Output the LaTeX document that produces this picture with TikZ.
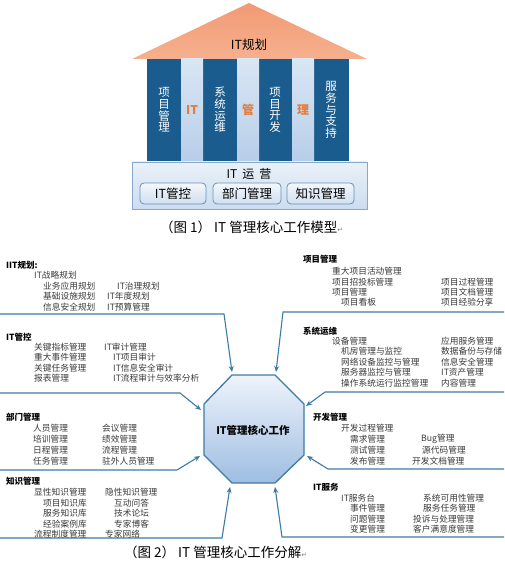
\documentclass[tikz,border=0pt]{standalone}
\usepackage{fontspec}
\setmainfont{Noto Sans CJK SC}
\newfontfamily\dejavu{DejaVu Sans}
\usetikzlibrary{arrows.meta}
\definecolor{colDark}{HTML}{1B5C8E}
\definecolor{colLightTop}{HTML}{D9E6F4}
\definecolor{colLightBot}{HTML}{B7CEE9}
\definecolor{roofTop}{HTML}{F29A74}
\definecolor{roofBot}{HTML}{F6B08E}
\definecolor{orangeTxt}{HTML}{E57C3A}
\definecolor{baseTop}{HTML}{EAF1F9}
\definecolor{baseBot}{HTML}{CCDDEF}
\definecolor{baseBorder}{HTML}{86A9CB}
\definecolor{subTop}{HTML}{F3F7FC}
\definecolor{subBot}{HTML}{D0DFF0}
\definecolor{subBorder}{HTML}{6890B8}
\definecolor{connCol}{HTML}{3C7CA4}
\definecolor{octTop}{HTML}{EEF4FB}
\definecolor{octBot}{HTML}{9EBDE2}
\definecolor{octBorder}{HTML}{3F7BA5}
\definecolor{itemTxt}{HTML}{3A3A3A}
\begin{document}
\begin{tikzpicture}[x=1pt,y=-1pt,
  coltxt/.style={text=white,align=center,inner sep=0pt,font=\fontsize{11.5}{11.6}\selectfont},
  orgtxt/.style={text=orangeTxt,inner sep=0pt,font=\bfseries\fontsize{12}{12}\selectfont},
  subbox/.style={draw=subBorder,line width=0.8pt,rounded corners=4pt,top color=subTop,bottom color=subBot,
     minimum width=66pt,minimum height=21pt,inner sep=0pt,font=\fontsize{12.5}{12.5}\selectfont},
  hdr/.style={anchor=west,inner sep=0pt,font=\bfseries\fontsize{8.5}{8.5}\selectfont},
  item/.style={anchor=west,inner sep=0pt,text=itemTxt,font=\fontsize{8.7}{8.7}\selectfont},
  connline/.style={draw=connCol,line width=1.1pt,-{Stealth[length=6pt,width=5pt]}},
  captxt/.style={anchor=west,inner sep=0pt,font=\fontsize{13.5}{13.5}\selectfont}]
\useasboundingbox (0,0) rectangle (504,561);
\clip (0,0) rectangle (504,561);
\fill[white] (0,0) rectangle (504,561);
% ---------- Figure 1 ----------
\shade[top color=roofTop,bottom color=roofBot] (132,59) -- (249,3) -- (367,59) -- cycle;
\node[inner sep=0pt,font=\fontsize{12.5}{12.5}\selectfont] (roof) at (249,45) {IT规划};
\fill[colDark] (147,59) rectangle (181,163);
\fill[colDark] (203,59) rectangle (237,163);
\fill[colDark] (259,59) rectangle (292,163);
\fill[colDark] (314,59) rectangle (349,163);
\shade[top color=colLightTop,bottom color=colLightBot] (181,59) rectangle (203,163);
\shade[top color=colLightTop,bottom color=colLightBot] (237,59) rectangle (259,163);
\shade[top color=colLightTop,bottom color=colLightBot] (292,59) rectangle (314,163);
\node[coltxt] (c1) at (164,110) {项\\目\\管\\理};
\node[coltxt] (c2) at (220,110) {系\\统\\运\\维};
\node[coltxt] (c3) at (275,110) {项\\目\\开\\发};
\node[coltxt] (c4) at (331,110) {服\\务\\与\\支\\持};
\node[orgtxt] (o1) at (192,110) {IT};
\node[orgtxt] (o2) at (248,110) {管};
\node[orgtxt] (o3) at (303,110) {理};
\shadedraw[top color=baseTop,bottom color=baseBot,draw=baseBorder,line width=0.8pt] (132,162) rectangle (367,209);
\node[inner sep=0pt,font=\fontsize{12}{12}\selectfont] (ops) at (249,174) {IT\hspace{5pt}运\hspace{5pt}营};
\node[subbox] (s1) at (173,193.5) {IT管控};
\node[subbox,minimum width=68pt] (s2) at (247,193.5) {部门管理};
\node[subbox,minimum width=67pt] (s3) at (320.5,193.5) {知识管理};
\node[captxt] (cap1) at (160,227) {（图 1）\hspace{3pt}IT 管理核心工作模型{\dejavu\fontsize{7}{7}\selectfont\color{gray}↵}};
% ---------- Figure 2 ----------
\coordinate (v1) at (232,375); \coordinate (v2) at (275,375);
\coordinate (v3) at (304,404); \coordinate (v4) at (304,455);
\coordinate (v5) at (275,483); \coordinate (v6) at (232,483);
\coordinate (v7) at (204,455); \coordinate (v8) at (204,404);
\shadedraw[top color=octTop,bottom color=octBot,draw=octBorder,line width=1.3pt]
  (v1) -- (v2) -- (v3) -- (v4) -- (v5) -- (v6) -- (v7) -- (v8) -- cycle;
\node[inner sep=0pt,font=\bfseries\fontsize{10.5}{10.5}\selectfont] (core) at (253,430) {IT管理核心工作};
% connectors
\coordinate (a1) at (0,314);   \coordinate (k1) at (224,314); \coordinate (e1) at (232,372);
\coordinate (a2) at (504,312); \coordinate (k2) at (283,312); \coordinate (e2) at (276,372);
\coordinate (a3) at (0,393);   \coordinate (k3) at (180,393); \coordinate (e3) at (201,410);
\coordinate (a4) at (504,392); \coordinate (k4) at (325,392); \coordinate (e4) at (306,406);
\coordinate (a5) at (0,470);   \coordinate (k5) at (177,470); \coordinate (e5) at (200,456);
\coordinate (a6) at (504,469); \coordinate (k6) at (328,469); \coordinate (e6) at (307,456);
\coordinate (a7) at (0,538);   \coordinate (k7) at (222,538); \coordinate (e7) at (230,487);
\coordinate (a8) at (504,537); \coordinate (k8) at (282,537); \coordinate (e8) at (275,487);
\draw[connline] (a1) -- (k1) -- (e1);
\draw[connline] (a2) -- (k2) -- (e2);
\draw[connline] (a3) -- (k3) -- (e3);
\draw[connline] (a4) -- (k4) -- (e4);
\draw[connline] (a5) -- (k5) -- (e5);
\draw[connline] (a6) -- (k6) -- (e6);
\draw[connline] (a7) -- (k7) -- (e7);
\draw[connline] (a8) -- (k8) -- (e8);
% IT规划
\node[hdr] (h1) at (6,265) {IIT规划:};
\node[item] (h1a) at (34,275) {IT战略规划};
\node[item] (h1b) at (43,286) {业务应用规划};
\node[item] (h1c) at (117,286) {IT治理规划};
\node[item] (h1d) at (43,296) {基础设施规划};
\node[item] (h1e) at (107,296) {IT年度规划};
\node[item] (h1f) at (43,307) {信息安全规划};
\node[item] (h1g) at (107,307) {IT预算管理};
% IT管控
\node[hdr] (h2) at (6,337) {IT管控};
\node[item] (h2a) at (34,347) {关键指标管理};
\node[item] (h2b) at (104,347) {IT审计管理};
\node[item] (h2c) at (34,357) {重大事件管理};
\node[item] (h2d) at (113,357) {IT项目审计};
\node[item] (h2e) at (34,368) {关键任务管理};
\node[item] (h2f) at (113,368) {IT信息安全审计};
\node[item] (h2g) at (34,378) {报表管理};
\node[item] (h2h) at (113,378) {IT流程审计与效率分析};
% 部门管理
\node[hdr] (h3) at (6,417) {部门管理};
\node[item] (h3a) at (33,428) {人员管理};
\node[item] (h3b) at (102,428) {会议管理};
\node[item] (h3c) at (33,439) {培训管理};
\node[item] (h3d) at (102,439) {绩效管理};
\node[item] (h3e) at (33,450) {日程管理};
\node[item] (h3f) at (102,450) {流程管理};
\node[item] (h3g) at (33,461) {任务管理};
\node[item] (h3h) at (102,461) {驻外人员管理};
% 知识管理
\node[hdr] (h4) at (6,481) {知识管理};
\node[item] (h4a) at (34,492) {显性知识管理};
\node[item] (h4b) at (105,492) {隐性知识管理};
\node[item] (h4c) at (43,503) {项目知识库};
\node[item] (h4d) at (114,503) {互动问答};
\node[item] (h4e) at (43,513) {服务知识库};
\node[item] (h4f) at (114,513) {技术论坛};
\node[item] (h4g) at (43,524) {经验案例库};
\node[item] (h4h) at (114,524) {专家博客};
\node[item] (h4i) at (34,534) {流程制度管理};
\node[item] (h4j) at (105,534) {专家网络};
% 项目管理
\node[hdr] (r1) at (303,259) {项目管理};
\node[item] (r1a) at (332,271) {重大项目活动管理};
\node[item] (r1b) at (332,282) {项目招投标管理};
\node[item] (r1c) at (441,282) {项目过程管理};
\node[item] (r1d) at (332,292) {项目管理};
\node[item] (r1e) at (441,292) {项目文档管理};
\node[item] (r1f) at (341,302) {项目看板};
\node[item] (r1g) at (441,302) {项目经验分享};
% 系统运维
\node[hdr] (r2) at (303,331) {系统运维};
\node[item] (r2a) at (332,341) {设备管理};
\node[item] (r2b) at (441,341) {应用服务管理};
\node[item] (r2c) at (341,351) {机房管理与监控};
\node[item] (r2d) at (441,351) {数据备份与存储};
\node[item] (r2e) at (341,362) {网络设备监控与管理};
\node[item] (r2f) at (441,362) {信息安全管理};
\node[item] (r2g) at (341,372) {服务器监控与管理};
\node[item] (r2h) at (441,372) {IT资产管理};
\node[item] (r2i) at (341,383) {操作系统运行监控管理};
\node[item] (r2j) at (441,383) {内容管理};
% 开发管理
\node[hdr] (r3) at (313,417) {开发管理};
\node[item] (r3a) at (341,428) {开发过程管理};
\node[item] (r3b) at (350,439) {需求管理};
\node[item] (r3c) at (421,439) {Bug管理};
\node[item] (r3d) at (350,450) {测试管理};
\node[item] (r3e) at (422,450) {源代码管理};
\node[item] (r3f) at (350,461) {发布管理};
\node[item] (r3g) at (412,461) {开发文档管理};
% IT服务
\node[hdr] (r4) at (313,487) {IT服务};
\node[item] (r4a) at (341,498) {IT服务台};
\node[item] (r4b) at (423,498) {系统可用性管理};
\node[item] (r4c) at (350,508) {事件管理};
\node[item] (r4d) at (423,508) {服务任务管理};
\node[item] (r4e) at (350,519) {问题管理};
\node[item] (r4f) at (413,519) {投诉与处理管理};
\node[item] (r4g) at (350,529) {变更管理};
\node[item] (r4h) at (413,529) {客户满意度管理};
\node[captxt] (cap2) at (124,552) {（图 2）\hspace{3pt}IT 管理核心工作分解{\dejavu\fontsize{7}{7}\selectfont\color{gray}↵}};
\end{tikzpicture}
\end{document}
